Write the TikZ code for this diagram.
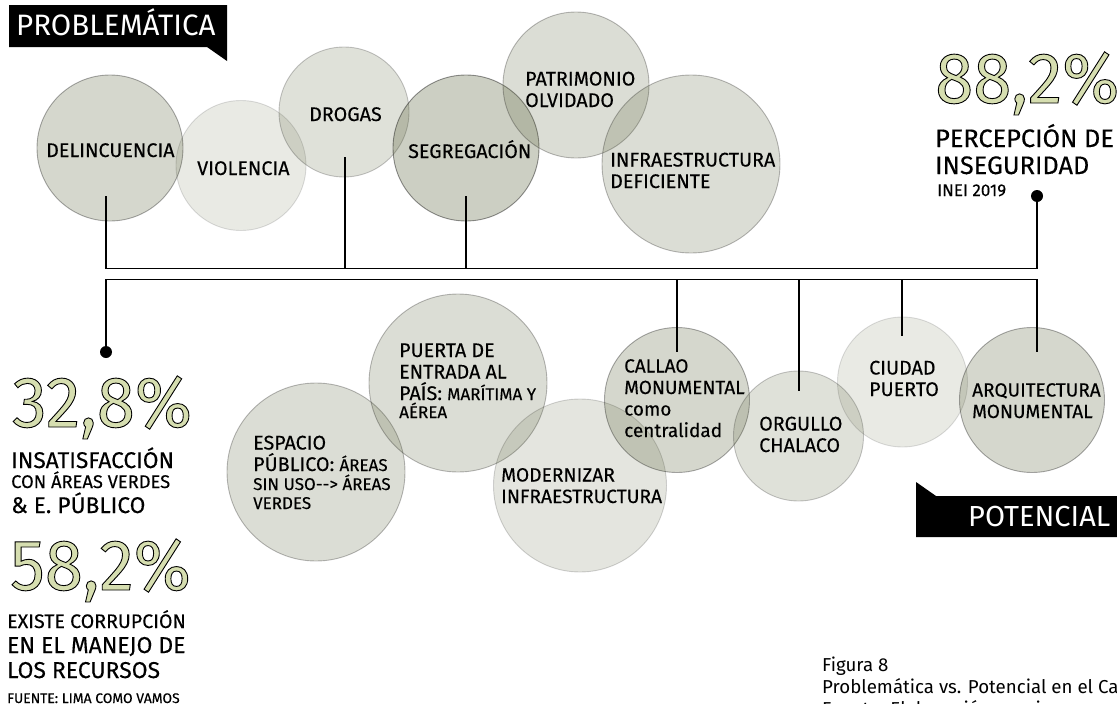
\documentclass[tikz,border=0pt]{standalone}
\usepackage{fontspec}
\setmainfont[FakeBold=0.25]{Fira Sans}
\newfontfamily\numfont[FakeStretch=0.96]{Fira Sans}
\newfontfamily\regfont{Fira Sans}
\newcommand{\fsz}[2]{\fontsize{#1}{#2}\selectfont}
\newcommand{\outl}[1]{\special{pdf:code q 2 Tr 0.9 w 0 0 0 RG 0.84 0.87 0.69 rg}#1\special{pdf:code Q}}
\definecolor{base}{HTML}{575F37}
\tikzset{
 x=1pt,y=-1pt,
 bub/.style={circle,fill=base,draw=black,line width=0.9pt,inner sep=0pt,minimum size=2*#1*1pt},
 o1/.style={fill opacity=.135,draw opacity=.13},
 o2/.style={fill opacity=.16,draw opacity=.17},
 o3/.style={fill opacity=.19,draw opacity=.22},
 o4/.style={fill opacity=.21,draw opacity=.27},
 o5/.style={fill opacity=.25,draw opacity=.33},
 o6/.style={fill opacity=.30,draw opacity=.42},
 lab/.style={anchor=base west,inner sep=0pt,align=left,font=\fsz{19.7}{21.5}},
 big/.style={anchor=base west,inner sep=0pt,font=\numfont\fsz{72}{72}},
 line/.style={draw=black,line width=1.3pt},
 dot/.style={circle,fill=black,inner sep=0pt,minimum size=12pt},
 flag/.style={fill=black},
}
\begin{document}
\begin{tikzpicture}
\useasboundingbox (0,0) rectangle (1117,704);
\clip (0,0) rectangle (1117,704);
\node[bub=73,o5] (delin) at (110,148) {};
\node[bub=65,o1] (viol) at (241,165.5) {};
\node[bub=65,o3] (drog) at (344,112) {};
\node[bub=73,o6] (segr) at (466,148) {};
\node[bub=73,o4] (patr) at (576,85) {};
\node[bub=89,o4] (infra) at (691,164) {};
\node[bub=89,o4] (esp) at (316,472) {};
\node[bub=89,o4] (puer) at (458,383) {};
\node[bub=86.5,o2] (mod) at (580,485.5) {};
\node[bub=72.5,o5] (call) at (677,400) {};
\node[bub=65,o3] (org) at (798.5,436) {};
\node[bub=65,o1] (ciu) at (902.5,382) {};
\node[bub=72.5,o5] (arq) at (1032,400) {};

\coordinate (a1) at (106,196);
\coordinate (a2) at (345,157);
\coordinate (a3) at (466,196);
\node[dot] (d1) at (1037,196) {};
\coordinate (bl) at (106,268.5);
\coordinate (br) at (1037,268.5);
\coordinate (b2) at (345,268.5);
\coordinate (b3) at (466,268.5);
\draw[line] (a1) -- (bl) -- (br) -- (d1.center);
\draw[line] (a2) -- (b2);
\draw[line] (a3) -- (b3);
\node[dot] (d2) at (106,352) {};
\coordinate (cl) at (106,279.5);
\coordinate (cr) at (1037,279.5);
\coordinate (c1) at (677,279.5);
\coordinate (c2) at (799,279.5);
\coordinate (c3) at (902,279.5);
\coordinate (e1) at (677,352);
\coordinate (e2) at (799,391);
\coordinate (e3) at (902,336);
\coordinate (e4) at (1037,352);
\draw[line] (d2.center) -- (cl) -- (cr) -- (e4);
\draw[line] (c1) -- (e1);
\draw[line] (c2) -- (e2);
\draw[line] (c3) -- (e3);

\node[lab] (t1) at (46,157) {DELINCUENCIA};
\node[lab] (t2) at (197,175) {VIOLENCIA};
\node[lab] (t3) at (309,121) {DROGAS};
\node[lab] (t4) at (408,158) {SEGREGACIÓN};
\node[lab] (t5) at (525,107) {PATRIMONIO\\OLVIDADO};
\node[lab] (t6) at (610,188) {INFRAESTRUCTURA\\DEFICIENTE};
\node[lab] (t7) at (253,509) {ESPACIO\\PÚBLICO: {\fsz{17}{19}ÁREAS}\\[-2.5pt]{\fsz{17}{19}SIN USO-{}-> ÁREAS}\\[-2.5pt]{\fsz{17}{19}VERDES}};
\node[lab] (t8) at (399,418) {PUERTA DE\\ENTRADA AL\\PAÍS: {\fsz{17}{19}MARÍTIMA Y}\\[-3.5pt]{\fsz{17}{19}AÉREA}};
\node[lab,font=\fsz{19.2}{21.5}] (t9) at (501,503) {MODERNIZAR\\INFRAESTRUCTURA};
\node[lab,font=\fsz{19}{21.5}] (t10) at (624,437) {CALLAO\\MONUMENTAL\\como\\centralidad};
\node[lab] (t11) at (759,452) {ORGULLO\\CHALACO};
\node[lab] (t12) at (869,396) {CIUDAD\\PUERTO};
\node[lab,font=\fsz{19}{21.5}] (t13) at (972,418) {ARQUITECTURA\\MONUMENTAL};

\node[big] (n1) at (935,103) {\outl{88,2\%}};
\node[big] (n2) at (12,427) {\outl{32,8\%}};
\node[big] (n3) at (10,590) {\outl{58,2\%}};

\node[lab,font=\fsz{25.3}{27}] (p1) at (935,174) {PERCEPCIÓN DE\\INSEGURIDAD};
\node[lab,font=\fsz{17}{16}] (p2) at (937,196) {INEI 2019};
\node[lab,font=\fsz{22.7}{25}] (p3) at (11,513) {INSATISFACCIÓN\\[-5pt]{\fsz{18.3}{20}CON ÁREAS VERDES}\\{\& E. PÚBLICO}};
\node[lab,font=\fsz{22.9}{25}] (p4) at (7,678) {{\fsz{19.6}{25}EXISTE CORRUPCIÓN}\\EN EL MANEJO DE\\LOS RECURSOS};
\node[lab,font=\fsz{13.9}{16}] (p5) at (7,703) {FUENTE: LIMA COMO VAMOS};

\fill[flag] (9,5) -- (227,5) -- (227,61) -- (207,47) -- (9,47) -- cycle;
\node[lab,text=white,font=\regfont\fsz{29.5}{29}] (h1) at (16,35) {PROBLEMÁTICA};
\fill[flag] (916,482) -- (936,496) -- (1117,496) -- (1117,537) -- (916,537) -- cycle;
\node[lab,text=white,font=\regfont\fsz{29}{29}] (h2) at (968,526) {POTENCIAL};

\node[lab,font=\regfont\fsz{18.7}{21.7}] (f1) at (822,715) {Figura 8\\Problemática vs. Potencial en el Callao\\Fuente: Elaboración propia};
\end{tikzpicture}
\end{document}
